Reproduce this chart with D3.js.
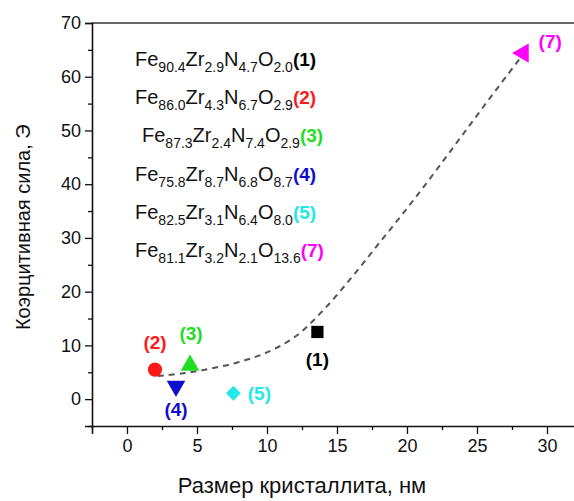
<!DOCTYPE html>
<html><head><meta charset="utf-8">
<script src="https://cdn.jsdelivr.net/npm/d3@7"></script>
<style>body{margin:0;background:#fff}svg{display:block}</style>
</head><body>
<script>
// ---- data ----
const sampleIds = ["1","2","3","4","5","7"];
const crystalSize = [13.6, 2.0, 4.5, 3.5, 7.6, 28.3];
const coercivity = [12.5, 5.5, 6.3, 2.4, 1.1, 64.4];
const sampleColors = ["#000000","#ff1a1a","#1fdd1f","#1010cc","#22e8e8","#ff00ff"];
const sampleShapes = ["square","circle","triangleUp","triangleDown","diamond","triangleLeft"];
const trendX = [2.2, 4.0, 6.0, 8.0, 10.0, 12.0, 14.0, 16.0, 18.0, 20.0, 22.0, 24.0, 26.0, 28.1];
const trendY = [4.3, 4.8, 5.7, 6.9, 8.7, 11.6, 16.5, 22.5, 29.0, 35.5, 42.3, 49.3, 56.3, 63.5];
const legendFe = ["90.4","86.0","87.3","75.8","82.5","81.1"];
const legendZr = ["2.9","4.3","2.4","8.7","3.1","3.2"];
const legendN  = ["4.7","6.7","7.4","6.8","6.4","2.1"];
const legendO  = ["2.0","2.9","2.9","8.7","8.0","13.6"];
const xTicks = [0,5,10,15,20,25,30];
const yTicks = [0,10,20,30,40,50,60,70];
const xLabel = "Размер кристаллита, нм";
const yLabel = "Коэрцитивная сила, Э";

const W=574,H=501;
const svg=d3.select("body").append("svg").attr("width",W).attr("height",H);
const FONT="Liberation Sans, Arial, sans-serif";
const x=d3.scaleLinear().domain([-2.5,32]).range([92,575]);
const y=d3.scaleLinear().domain([-5,70]).range([426,23]);

// frame
svg.append("line").attr("x1",92).attr("x2",W).attr("y1",y(70)).attr("y2",y(70)).attr("stroke","#333").attr("stroke-width",1.5);

// axes
svg.append("g").attr("transform",`translate(0,${y(-5)})`)
  .call(d3.axisBottom(x).tickValues(xTicks).tickSize(8).tickPadding(5).tickFormat(d3.format("d")));
svg.append("g").attr("transform",`translate(0,${y(-5)})`)
  .call(d3.axisBottom(x).tickValues(d3.range(-2.5,32,5)).tickSize(4).tickFormat(""))
  .call(g=>g.select(".domain").remove());
svg.append("g").attr("transform",`translate(92,0)`)
  .call(d3.axisLeft(y).tickValues(yTicks).tickSize(7).tickPadding(4));
svg.append("g").attr("transform",`translate(92,0)`)
  .call(d3.axisLeft(y).tickValues(d3.range(-5,70,10)).tickSize(4).tickFormat(""))
  .call(g=>g.select(".domain").remove());
svg.selectAll(".domain").attr("stroke","#111").attr("stroke-width",1.6);
svg.selectAll(".tick line").attr("stroke","#111").attr("stroke-width",1.3);
svg.selectAll(".tick text").attr("font-family",FONT).attr("font-size",18).attr("fill","#111");

// axis titles
svg.append("text").attr("x",x(12.5)).attr("y",493).attr("text-anchor","middle")
  .attr("font-family",FONT).attr("font-size",22).attr("fill","#111").text(xLabel);
svg.append("text").attr("transform",`translate(30,${y(32)}) rotate(-90)`).attr("text-anchor","middle")
  .attr("font-family",FONT).attr("font-size",20).attr("fill","#111").text(yLabel);

// trend line
svg.append("path").datum(d3.zip(trendX,trendY))
  .attr("d",d3.line().x(d=>x(d[0])).y(d=>y(d[1])).curve(d3.curveCatmullRom))
  .attr("fill","none").attr("stroke","#555").attr("stroke-width",2).attr("stroke-dasharray","6,5");

// markers
const sym={square:d3.symbolSquare,circle:d3.symbolCircle,triangleUp:d3.symbolTriangle,triangleDown:d3.symbolTriangle,diamond:d3.symbolSquare,triangleLeft:d3.symbolTriangle};
const rot={triangleDown:180,triangleLeft:-90,diamond:45};
const sz={square:150,circle:160,triangleUp:150,triangleDown:150,diamond:110,triangleLeft:160};
sampleIds.forEach((id,i)=>{
  const s=sampleShapes[i];
  svg.append("path").attr("d",d3.symbol().type(sym[s]).size(sz[s])())
    .attr("transform",`translate(${x(crystalSize[i])},${y(coercivity[i])}) rotate(${rot[s]||0})`)
    .attr("fill",sampleColors[i]);
});
// point labels
const lblOff={"1":[0,34],"2":[0,-21],"3":[1,-25],"4":[0,30],"5":[26,7],"7":[27,-5]};
sampleIds.forEach((id,i)=>{
  const o=lblOff[id];
  svg.append("text").attr("x",x(crystalSize[i])+o[0]).attr("y",y(coercivity[i])+o[1])
    .attr("text-anchor","middle").attr("font-family",FONT).attr("font-size",19).attr("font-weight","bold")
    .attr("fill",sampleColors[i]).text(`(${id})`);
});

// legend
const lx=[135,135,142,135,135,135];
sampleIds.forEach((id,i)=>{
  const t=svg.append("text").attr("x",lx[i]).attr("y",66+i*38.2).attr("font-family",FONT).attr("fill","#111");
  const parts=[["Fe",legendFe[i]],["Zr",legendZr[i]],["N",legendN[i]],["O",legendO[i]]];
  parts.forEach((p,k)=>{
    t.append("tspan").attr("font-size",20).attr("dy",k===0?0:-6).text(p[0]);
    t.append("tspan").attr("font-size",14).attr("dy",6).text(p[1]);
  });
  t.append("tspan").attr("font-size",19).attr("dy",-6).attr("font-weight","bold").attr("fill",sampleColors[i]).text(`(${id})`);
});
</script>
</body></html>
